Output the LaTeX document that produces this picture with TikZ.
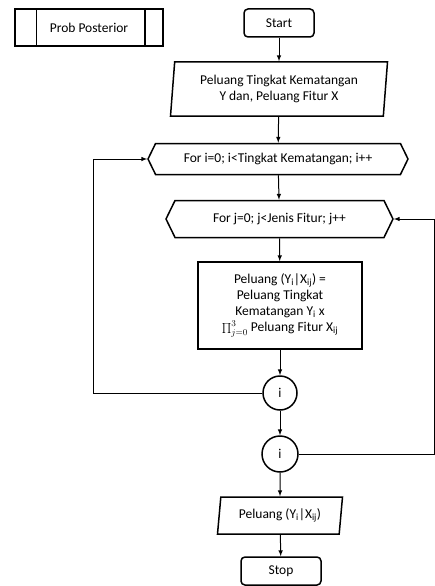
\documentclass[tikz,border=0pt]{standalone}
\usepackage{fontspec}
\setmainfont{Carlito}
\usetikzlibrary{shapes.geometric,shapes.symbols,calc}

\tikzset{
  every node/.style={font=\fontsize{13.5}{16}\selectfont},
  blok/.style={draw,line width=1.5pt,align=center,inner sep=1pt},
  terminal/.style={blok,rounded corners=4pt,minimum width=70pt,minimum height=28pt},
  proses/.style={blok,minimum width=164pt,minimum height=87pt},
  io/.style={blok,trapezium,trapezium stretches body,minimum height=#1},
  ulang/.style={blok,signal,signal to=west and east,signal pointer angle=128,minimum height=31pt},
  konektor/.style={blok,circle,minimum size=34pt},
  panah/.style={->,-latex,line width=1pt},
}

\begin{document}
\begin{tikzpicture}[x=1pt,y=-1pt]
    \useasboundingbox (0,0) rectangle (435,586);

    \node[blok,minimum width=148pt,minimum height=37pt] (prob) at (89,27.5) {Prob Posterior};
    \draw[line width=1.5pt] ([xshift=22pt]prob.north west) -- ([xshift=22pt]prob.south west);
    \draw[line width=1.5pt] ([xshift=-19pt]prob.north east) -- ([xshift=-19pt]prob.south east);

    \node[terminal] (start) at (279,23) {Start};
    \node[io=54pt,trapezium left angle=82,trapezium right angle=98,minimum width=217pt] (input) at (279,89)
        {Peluang Tingkat Kematangan\\Y dan, Peluang Fitur X};
    \node[ulang,minimum width=260pt] (fori) at (278,159) {For i=0; i<Tingkat Kematangan; i++};
    \node[ulang,minimum width=227pt,minimum height=37pt] (forj) at (279.5,219) {For j=0; j<Jenis Fitur; j++};
    \node[proses] (hitung) at (280,305.5)
        {Peluang (Y\textsubscript{i}|X\textsubscript{ij}) =\\
         Peluang Tingkat\\
         Kematangan Y\textsubscript{i} x\\
         $\prod_{j=0}^{3}$ Peluang Fitur X\textsubscript{ij}};
    \node[konektor] (ci) at (280,393) {i};
    \node[konektor,minimum size=36pt] (cj) at (280,454) {i};
    \node[io=37pt,trapezium left angle=78,trapezium right angle=102,minimum width=125pt] (output) at (280,515.5)
        {Peluang (Y\textsubscript{i}|X\textsubscript{ij})};
    \node[terminal,minimum width=80pt] (stop) at (281,571) {Stop};

    \coordinate (kiri) at (93,159);
    \coordinate (kanan) at (434,219);

    \draw[panah] (start) -- (input);
    \draw[panah] (input) -- (fori);
    \draw[panah] (fori) -- (forj);
    \draw[panah] (forj) -- (hitung);
    \draw[panah] (hitung) -- (ci);
    \draw[panah] (ci) -- (cj);
    \draw[panah] (cj) -- (output);
    \draw[panah] (output) -- (stop);
    \draw[panah] (ci.west) -| (kiri) -- (fori.west);
    \draw[panah] (cj.east) -| (kanan) -- (forj.east);
\end{tikzpicture}
\end{document}
